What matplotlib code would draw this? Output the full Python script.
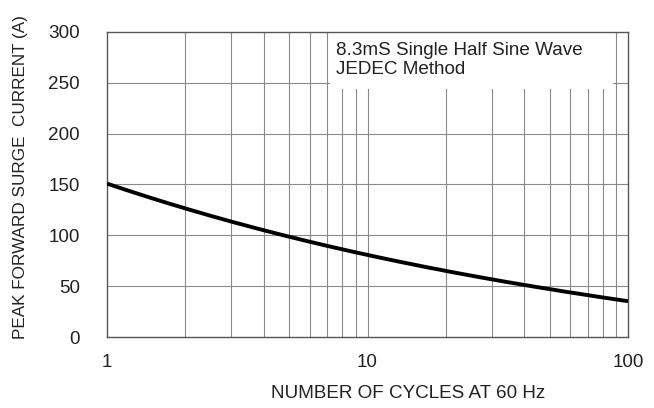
import matplotlib
matplotlib.use("Agg")
import matplotlib.pyplot as plt
import numpy as np
from matplotlib.patches import Rectangle

plt.rcParams['font.family'] = ['Liberation Sans', 'DejaVu Sans']

cycles = [1, 2, 3, 5, 7, 10, 20, 30, 50, 70, 100]
current = [150, 128, 115, 97, 88, 81, 65, 58, 47, 41, 35]
y_ticks = [0, 50, 100, 150, 200, 250, 300]
x_ticks = [1, 10, 100]
x_grid = [2, 3, 4, 5, 6, 7, 8, 9, 10, 20, 30, 40, 50, 60, 70, 80, 90]

W, H = 654, 408
fig = plt.figure(figsize=(W/100, H/100), dpi=100)
L, R, T, B = 107, 628, 32, 337
ax = fig.add_axes([L/W, 1-B/H, (R-L)/W, (B-T)/H])
ax.set_xscale('log')
ax.set_xlim(1, 100)
ax.set_ylim(0, 300)

gc = '#8a8a8a'
for xv in x_grid:
    ax.axvline(xv, color=gc, lw=0.8, zorder=1)
for yv in y_ticks[1:-1]:
    ax.axhline(yv, color=gc, lw=0.8, zorder=1)

# smooth curve in log-x space
lx = np.log10(cycles)
xs = np.linspace(0, 2, 200)
coef = np.polyfit(lx, current, 3)
ax.plot(10**xs, np.polyval(coef, xs), color='black', lw=2.8, zorder=4, solid_capstyle='butt')

# white text box
ax.add_patch(Rectangle((7.2, 244), 87.5-7.2, 300-244, facecolor='white', edgecolor='none', zorder=2))
ax.text(7.55, 290.5, "8.3mS Single Half Sine Wave\nJEDEC Method", fontsize=13.6,
        va='top', ha='left', color='#222222', zorder=3, linespacing=1.2)

ax.set_xticks(x_ticks)
ax.set_xticklabels([str(v) for v in x_ticks])
ax.set_xticks([], minor=True)
ax.set_yticks(y_ticks)
ax.tick_params(length=0, labelsize=13.6, colors='#222222')
ax.tick_params(axis='y', pad=19.5)
ax.tick_params(axis='x', pad=12)
for s in ax.spines.values():
    s.set_color('#555555')
    s.set_linewidth(1.0)

fig.text(408/W, 1-393/H, "NUMBER OF CYCLES AT 60 Hz", ha='center', va='center',
         fontsize=13.6, color='#222222')
fig.text(21/W, 1-177/H, "PEAK FORWARD SURGE  CURRENT (A)", rotation=90, ha='center',
         va='center', fontsize=12.3, color='#222222')

fig.savefig('out.png', dpi=100)
